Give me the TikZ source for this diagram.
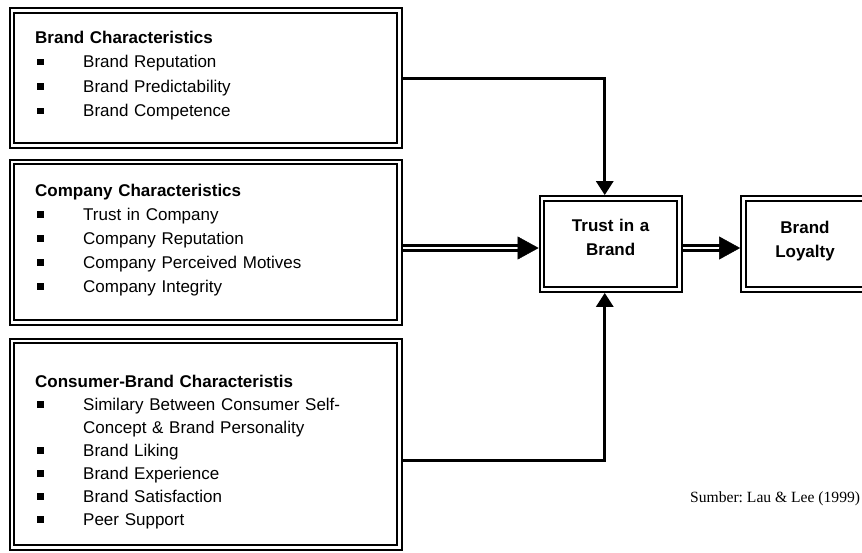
\documentclass[tikz,border=0pt]{standalone}
\usepackage{fontspec}
\setmainfont{Liberation Sans}
\newfontfamily\sumberfont{Liberation Serif}
\usetikzlibrary{arrows.meta,calc,positioning}
\tikzset{>=latex}
\frenchspacing
\newcommand{\sqitem}{\makebox[48pt][l]{\hspace*{2pt}\rule[2.3pt]{6.5pt}{6.5pt}}}

\begin{document}
\begin{tikzpicture}[x=1pt,y=-1pt]

        % Setup the styles for the boxes and connectors
        \tikzset{panel/.style={draw, double, line width=2.2pt, double distance=2.4pt,
                               inner sep=0pt, outer sep=3.4pt},
                 listtext/.style={inner sep=0pt, text width=360pt, align=left,
                                  font=\fontsize{17}{24}\selectfont},
                 boxtext/.style={inner sep=0pt, text width=130pt, align=center,
                                 font=\fontsize{17}{24}\selectfont\bfseries},
                 conn/.style={line width=3pt, -{Triangle[length=14pt,width=17pt]}},
                 dblline/.style={double, line width=2.3pt, double distance=2.8pt, shorten >=20pt},
                 bigtip/.style={line width=0.4pt, -{Triangle[length=21pt,width=23pt]}}}
        \useasboundingbox (0,0) rectangle (862,552);

        % Draw the boxes
        \node[panel, minimum width=387.5pt, minimum height=135pt] at (205.75,78)     (brand)  {};
        \node[panel, minimum width=387.5pt, minimum height=160.5pt] at (205.75,242.25) (company) {};
        \node[panel, minimum width=387.5pt, minimum height=206.5pt] at (205.75,444.25) (consumer) {};
        \node[panel, minimum width=137.5pt, minimum height=91pt] at (610.75,244)   (trust)  {};
        \node[panel, minimum width=123.5pt, minimum height=91pt] at (805.25,244)   (loyal)  {};

        % Texts of the boxes
        \node[listtext, font=\fontsize{17}{24.5}\selectfont, anchor=base west] at (35,43) (brandtxt)
            {\textbf{Brand Characteristics}\\
             \sqitem Brand Reputation\\
             \sqitem Brand Predictability\\
             \sqitem Brand Competence};
        \node[listtext, anchor=base west] at (35,196) (companytxt)
            {\textbf{Company Characteristics}\\
             \sqitem Trust in Company\\
             \sqitem Company Reputation\\
             \sqitem Company Perceived Motives\\
             \sqitem Company Integrity};
        \node[listtext, font=\fontsize{17}{23}\selectfont, anchor=base west] at (35,387) (consumertxt)
            {\textbf{Consumer-Brand Characteristis}\\
             \sqitem Similary Between Consumer Self-\\
             \hspace*{48pt}Concept \& Brand Personality\\
             \sqitem Brand Liking\\
             \sqitem Brand Experience\\
             \sqitem Brand Satisfaction\\
             \sqitem Peer Support};
        \node[boxtext, anchor=base] at (610.7,231) (trusttxt) {Trust in a\\Brand};
        \node[boxtext, anchor=base] at (805,233)   (loyaltxt) {Brand\\Loyalty};
        \node[inner sep=0pt, anchor=base west, font=\sumberfont\fontsize{15.6}{18}\selectfont]
            at (690,502) (source) {Sumber: Lau \& Lee (1999)};

        % Connect the boxes with arrows
        \coordinate (mid) at (0,248);
        \coordinate (low) at (0,460);
        \coordinate (tin) at ($(trust.north)+(-6,0)$);
        \coordinate (tout) at ($(trust.south)+(-6,0)$);
        \draw[conn] (brand.east) -| (tin);
        \draw[conn] (consumer.east |- low) -| (tout);
        \draw[dblline] (company.east |- mid) -- (trust.west |- mid);
        \draw[bigtip] ($(trust.west |- mid)+(-21,0)$) -- (trust.west |- mid);
        \draw[dblline] (trust.east |- mid) -- (loyal.west |- mid);
        \draw[bigtip] ($(loyal.west |- mid)+(-21,0)$) -- (loyal.west |- mid);
\end{tikzpicture}
\end{document}
